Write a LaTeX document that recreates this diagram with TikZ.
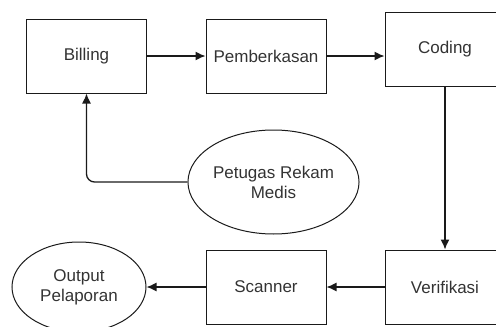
\documentclass[tikz,border=0pt]{standalone}
\usepackage{fontspec}
\setmainfont{Liberation Sans}
\usetikzlibrary{arrows.meta,shapes.geometric}
\definecolor{txt}{HTML}{333333}
\definecolor{ln}{HTML}{1A1A1A}
\begin{document}
\begin{tikzpicture}[x=1pt,y=-1pt,
  box/.style={draw=ln,line width=1pt,minimum width=120pt,minimum height=74pt,inner sep=0pt,font=\fontsize{17pt}{20pt}\selectfont,text=txt,align=center},
  oval/.style={draw=ln,line width=1pt,ellipse,inner sep=0pt,font=\fontsize{17pt}{20pt}\selectfont,text=txt,align=center},
  conn/.style={draw=ln,line width=1.3pt,-{Latex[length=10pt,width=9pt]}}]
\useasboundingbox (0,0) rectangle (496,327);
\node[box] (bill) at (86.5,56) {Billing};
\node[box] (pemb) at (266,56) {Pemberkasan};
\node[box] (cod) at (445,49) {Coding};
\node[box] (ver) at (445,287) {Verifikasi};
\node[box] (scan) at (266,287) {Scanner};
\node[oval,minimum width=165pt,minimum height=104pt] (pet) at (273.5,182) {Petugas Rekam\\Medis};
\node[oval,minimum width=134pt,minimum height=90pt] (out) at (79,287) {Output\\Pelaporan};
\draw[conn] (bill.east) -- (pemb.west);
\draw[conn] (pemb.east) -- (pemb.east -| cod.west);
\draw[conn] (cod.south) -- (ver.north);
\draw[conn] (ver.west) -- (scan.east);
\draw[conn] (scan.west) -- (out.east);
\draw[conn,rounded corners=8pt] (pet.west) -| (bill.south);
\end{tikzpicture}
\end{document}
